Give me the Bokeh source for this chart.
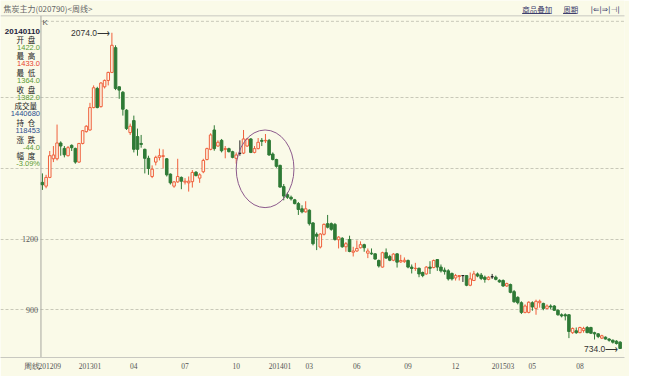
from bokeh.plotting import figure
from bokeh.models import Range1d, FixedTicker, Label, ColumnDataSource
from bokeh.embed import file_html
from bokeh.resources import INLINE
from bokeh.core.properties import value

# ---------------- data (weekly OHLC, 焦炭主力 020790) ----------------
opens = [1440, 1424, 1461, 1540, 1540, 1607, 1584, 1553, 1597, 1584,
         1526, 1605, 1655, 1662, 1757, 1838, 1761, 1845, 1872, 1906,
         2011, 1845, 1822, 1746, 1651, 1702, 1634, 1605, 1580, 1542,
         1465, 1526, 1546, 1550, 1540, 1475, 1424, 1442, 1461, 1441,
         1438, 1443, 1483, 1458, 1485, 1537, 1580, 1662, 1594, 1618,
         1580, 1583, 1570, 1542, 1563, 1564, 1594, 1624, 1567, 1583,
         1618, 1616, 1618, 1560, 1537, 1512, 1422, 1388, 1377, 1366,
         1350, 1328, 1315, 1322, 1268, 1220, 1166, 1220, 1265, 1265,
         1262, 1197, 1203, 1167, 1198, 1144, 1149, 1163, 1176, 1140,
         1140, 1137, 1109, 1081, 1142, 1126, 1110, 1137, 1103, 1104,
         1109, 1081, 1075, 1076, 1058, 1052, 1081, 1079, 1113, 1081,
         1068, 1065, 1054, 1035, 1041, 1045, 1045, 1004, 1024, 1052,
         1047, 1038, 1029, 1040, 1038, 1025, 1024, 1001, 1007, 977,
         953, 930, 889, 889, 930, 906, 930, 927, 906, 916,
         916, 898, 879, 879, 879, 803, 811, 803, 812, 825,
         825, 803, 798, 780, 784, 776, 771, 767, 763]
highs = [1478, 1472, 1573, 1594, 1685, 1614, 1594, 1594, 1601, 1587,
         1607, 1662, 1682, 1777, 1851, 1845, 1865, 1876, 1909, 2074,
         2021, 1847, 1827, 1750, 1689, 1723, 1668, 1641, 1583, 1553,
         1512, 1553, 1583, 1580, 1543, 1478, 1445, 1540, 1465, 1458,
         1465, 1492, 1488, 1479, 1540, 1587, 1648, 1682, 1618, 1624,
         1594, 1587, 1574, 1567, 1618, 1662, 1628, 1628, 1594, 1628,
         1628, 1645, 1624, 1567, 1540, 1515, 1433, 1397, 1384, 1370,
         1357, 1343, 1360, 1326, 1272, 1228, 1225, 1266, 1302, 1270,
         1268, 1212, 1208, 1187, 1214, 1167, 1194, 1190, 1180, 1160,
         1160, 1140, 1113, 1146, 1160, 1133, 1140, 1140, 1133, 1122,
         1113, 1092, 1099, 1079, 1062, 1085, 1106, 1113, 1115, 1092,
         1079, 1072, 1058, 1052, 1047, 1047, 1047, 1058, 1065, 1058,
         1056, 1045, 1042, 1052, 1045, 1029, 1029, 1015, 1011, 984,
         957, 936, 923, 936, 936, 943, 943, 930, 923, 923,
         920, 902, 885, 885, 882, 825, 825, 828, 828, 831,
         828, 807, 801, 794, 787, 780, 774, 771, 767]
lows = [1408, 1415, 1458, 1526, 1533, 1553, 1546, 1550, 1573, 1519,
        1523, 1601, 1651, 1659, 1754, 1754, 1757, 1838, 1851, 1903,
        1831, 1794, 1723, 1662, 1641, 1567, 1553, 1587, 1478, 1472,
        1458, 1512, 1533, 1499, 1465, 1431, 1417, 1438, 1411, 1431,
        1401, 1418, 1465, 1438, 1479, 1533, 1576, 1574, 1591, 1567,
        1542, 1567, 1542, 1519, 1553, 1560, 1591, 1564, 1563, 1580,
        1594, 1607, 1553, 1533, 1502, 1418, 1364, 1370, 1363, 1347,
        1302, 1309, 1312, 1257, 1173, 1153, 1160, 1215, 1245, 1235,
        1193, 1160, 1163, 1146, 1144, 1126, 1146, 1160, 1146, 1119,
        1133, 1113, 1079, 1079, 1117, 1106, 1106, 1079, 1099, 1099,
        1076, 1054, 1065, 1038, 1038, 1049, 1052, 1076, 1065, 1058,
        1049, 1024, 1024, 1024, 1024, 1018, 1000, 1000, 1022, 1038,
        1026, 1015, 1025, 1031, 1025, 1015, 997, 997, 970, 930,
        923, 882, 885, 885, 896, 879, 909, 898, 902, 902,
        896, 875, 868, 855, 780, 798, 798, 801, 803, 801,
        798, 774, 780, 776, 774, 765, 757, 753, 734]
closes = [1430, 1461, 1553, 1556, 1607, 1594, 1557, 1587, 1587, 1526,
          1605, 1659, 1678, 1757, 1841, 1757, 1861, 1872, 1906, 2021,
          1838, 1831, 1750, 1668, 1678, 1580, 1580, 1601, 1542, 1499,
          1496, 1546, 1553, 1553, 1472, 1438, 1442, 1465, 1445, 1445,
          1445, 1482, 1469, 1472, 1533, 1583, 1641, 1583, 1610, 1574,
          1583, 1570, 1546, 1556, 1563, 1624, 1624, 1567, 1583, 1610,
          1614, 1618, 1556, 1537, 1508, 1420, 1382, 1377, 1370, 1350,
          1325, 1315, 1328, 1265, 1180, 1212, 1221, 1262, 1250, 1241,
          1198, 1208, 1167, 1180, 1147, 1149, 1160, 1176, 1163, 1149,
          1137, 1115, 1086, 1142, 1119, 1110, 1136, 1102, 1109, 1110,
          1081, 1075, 1076, 1052, 1045, 1081, 1076, 1109, 1081, 1065,
          1062, 1031, 1031, 1045, 1045, 1045, 1004, 1031, 1052, 1043,
          1033, 1029, 1038, 1040, 1029, 1018, 1001, 1011, 974, 934,
          930, 889, 916, 932, 912, 936, 936, 906, 916, 912,
          898, 879, 874, 874, 808, 821, 803, 825, 821, 803,
          801, 798, 787, 790, 776, 771, 763, 757, 736]

# month labels on the time axis (week index of the first bar of the month)
tick_weeks = [2, 13, 25, 39, 53, 65, 73, 86, 100, 113, 126, 134, 147]
tick_labels = ["201209", "201301", "04", "07", "10", "201401", "03",
               "06", "09", "12", "201503", "05", "08"]
period_label = "周线"
price_ticks = [900, 1200, 1500, 1800]
shown_price_labels = [900, 1200]

# highlighted zone (ellipse)
zone_weeks = (53, 68)
zone_prices = (1333, 1662)

# info panel (week 20140110)
info_date = "20140110"
info_rows = [("开\u2002盘", "1422.0", "#5a9a32"), ("最\u2002高", "1433.0", "#e8432c"),
             ("最\u2002低", "1364.0", "#5a9a32"), ("收\u2002盘", "1382.0", "#5a9a32"),
             ("成交量", "1440680", "#2c4f8f"), ("持\u2002仓", "118453", "#2c4f8f"),
             ("涨\u2002跌", "-44.0", "#5a9a32"), ("幅\u2002度", "-3.09%", "#5a9a32")]

# ---------------- layout / styling ----------------
BG = "#fafae8"
UP = "#f0603c"
DOWN = "#2f7a36"
FLAT = "#222222"
W, H = 629, 376
SX, SY = W / 645.0, H / 392.0
FR, FB = 640.0, 372.0            # right / bottom of chart area (reference px)
X0, DX = 43.0, 3.75              # reference px of week 0, px per week
PY, PP, PK = 101.0, 1800.0, 4.067  # reference px of price PP, price per px


def wk(rx):      # reference x px -> week coordinate
    return (rx - X0) / DX


def pr(ry):      # reference y px -> price coordinate
    return PP - (ry - PY) * PK


right = int(round(FR * SX))
bottom = int(round(FB * SY))

p = figure(width=W, height=H, output_backend="svg", toolbar_location=None,
           x_range=Range1d(wk(0), wk(FR)), y_range=Range1d(pr(FB), pr(0)),
           min_border_left=0, min_border_right=W - right,
           min_border_top=0, min_border_bottom=H - bottom,
           background_fill_color=BG, border_fill_color=BG)
p.outline_line_color = None
p.yaxis.visible = False
p.xgrid.grid_line_color = None
p.ygrid.ticker = FixedTicker(ticks=price_ticks)
p.ygrid.grid_line_color = "#c8c8b8"
p.ygrid.grid_line_dash = "3 2"
p.ygrid.bounds = (wk(41.5), wk(FR))

xax = p.xaxis[0]
xax.ticker = FixedTicker(ticks=[wk(32)] + tick_weeks)
xax.major_label_overrides = dict(zip([wk(32)] + tick_weeks, [period_label] + tick_labels))
xax.major_tick_out = 0
xax.major_tick_in = 0
xax.minor_tick_out = 0
xax.minor_tick_in = 0
xax.axis_line_color = "#c8c8c0"
xax.major_label_text_font = "Liberation Serif"
xax.major_label_text_font_size = "7.5px"
xax.major_label_text_color = "#555555"
xax.major_label_standoff = 4

# frame lines of the chart area
p.segment(x0=[wk(0)], y0=[pr(16)], x1=[wk(645)], y1=[pr(16)], line_color="#c8c8c0", line_width=1)
p.segment(x0=[wk(41.5)], y0=[pr(21.7)], x1=[wk(FR)], y1=[pr(21.7)], line_color="#c8c8b8",
          line_width=1, line_dash="3 2")
p.segment(x0=[wk(41.5)], y0=[pr(16)], x1=[wk(41.5)], y1=[pr(FB)], line_color="#a8a8a0", line_width=1)
# link underlines in the header
p.segment(x0=[wk(535), wk(577)], y0=[pr(13.5)] * 2, x1=[wk(564), wk(591)], y1=[pr(13.5)] * 2,
          line_color="#3a3a6a", line_width=1)

# price labels (left scale)
p.text(x=[wk(38.5)] * len(shown_price_labels), y=shown_price_labels,
       text=[str(v) for v in shown_price_labels], text_align="right", text_baseline="middle",
       text_color="#555555", text_font=value("Liberation Serif"), text_font_size="8px")

# ---------------- candles ----------------
n = len(opens)
weeks = list(range(n))
col, fill, tops, bots = [], [], [], []
for o, c in zip(opens, closes):
    if c > o:
        col.append(UP); fill.append(BG)
    elif c < o:
        col.append(DOWN); fill.append(DOWN)
    else:
        col.append(FLAT); fill.append(FLAT)
    tops.append(max(o, c)); bots.append(min(o, c))
src = ColumnDataSource(dict(x=weeks, o=opens, h=highs, l=lows, c=closes,
                            top=tops, bot=bots, col=col, fill=fill))
p.segment(x0="x", y0="l", x1="x", y1="h", color="col", line_width=1, source=src)
p.vbar(x="x", width=0.7, top="top", bottom="bot", fill_color="fill",
       line_color="col", line_width=1, source=src)

# max / min markers
imax = max(range(n), key=lambda i: highs[i])
imin = min(range(n), key=lambda i: lows[i])
p.text(x=[imax - 0.5], y=[highs[imax]], text=[f"{highs[imax]:.1f}\u27f6"],
       text_align="right", text_baseline="middle", text_color="#333333",
       text_font=value("Liberation Sans"), text_font_size="8.5px")
p.text(x=[imin - 0.5], y=[lows[imin]], text=[f"{lows[imin]:.1f}\u27f6"],
       text_align="right", text_baseline="middle", text_color="#333333",
       text_font=value("Liberation Sans"), text_font_size="8.5px")

# highlight ellipse
p.ellipse(x=[(zone_weeks[0] + zone_weeks[1]) / 2 + 0.4],
          y=[(zone_prices[0] + zone_prices[1]) / 2],
          width=zone_weeks[1] - zone_weeks[0] + 0.8,
          height=zone_prices[1] - zone_prices[0],
          fill_color=None, line_color="#8c5a8c", line_width=1)


def lab(text, rx, ry, size="8px", color="#333333", align="left",
        font="Noto Sans CJK SC", style="normal"):
    p.add_layout(Label(x=rx * SX, y=(FB - ry) * SY,
                       x_units="screen", y_units="screen", text=text,
                       text_font=font, text_font_size=size, text_color=color,
                       text_align=align, text_baseline="middle",
                       text_font_style=style))


# header
lab("焦炭主力(020790)<周线>", 3, 8, size="8px", color="#666666")
lab("商品叠加", 535, 9, size="7.5px", color="#3a3a6a")
lab("周期", 577, 9, size="7.5px", color="#3a3a6a")
lab("|\u21d0|\u21d2|\u22a3|", 605, 9, size="7.5px", color="#3a3a6a", font="DejaVu Sans")
lab("K", 43, 22.5, size="8px", color="#555555", font="Liberation Sans")

# info panel
lab(info_date, 40.5, 31.7, size="8px", color="#1e1e3c", align="right",
    font="Liberation Sans", style="bold")
y0 = 40.0
for k, (name, val, c) in enumerate(info_rows):
    yy = y0 + k * 17.4
    lab(name, 26, yy, size="7.5px", color="#222222", align="center")
    lab(val, 40.5, yy + 8.4, size="7.5px", color=c, align="right",
        font="Liberation Sans")

open("out.html", "w").write(file_html(p, INLINE))
